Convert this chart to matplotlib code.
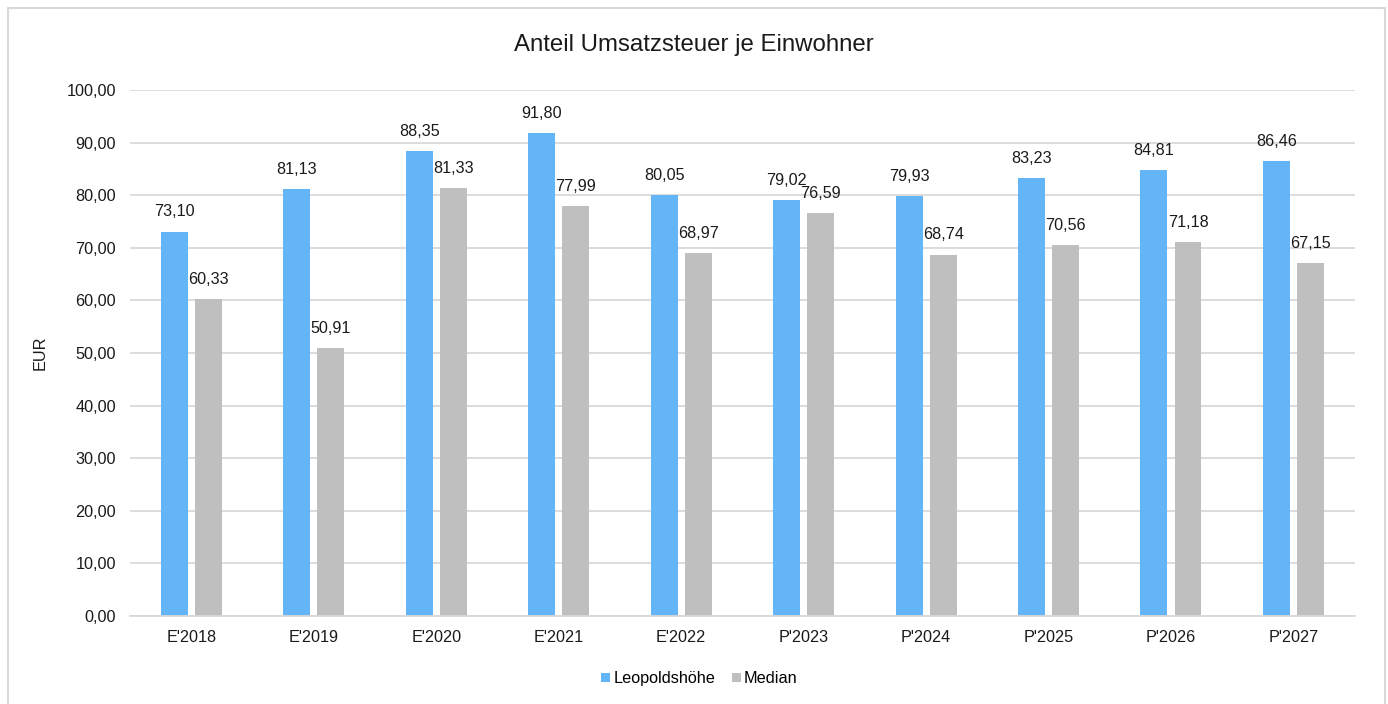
import matplotlib.pyplot as plt
import numpy as np
from matplotlib.patches import Rectangle

plt.rcParams['font.family'] = ['Liberation Sans', 'DejaVu Sans']

# === Data ===
categories = ["E'2018", "E'2019", "E'2020", "E'2021", "E'2022",
              "P'2023", "P'2024", "P'2025", "P'2026", "P'2027"]
leopoldshoehe = [73.10, 81.13, 88.35, 91.80, 80.05, 79.02, 79.93, 83.23, 84.81, 86.46]
median = [60.33, 50.91, 81.33, 77.99, 68.97, 76.59, 68.74, 70.56, 71.18, 67.15]

def fmt(v):
    return f'{v:.2f}'.replace('.', ',')

txt = '#1a1a1a'

# === Plot ===
fig = plt.figure(figsize=(13.88, 7.04), dpi=100)
ax = fig.add_axes([0.0937, 0.125, 0.8823, 0.747])

x = np.arange(len(categories))
w = 0.22
off = 0.139
b1 = ax.bar(x - off, leopoldshoehe, w, color='#63B5F7', label='Leopoldshöhe', zorder=2)
b2 = ax.bar(x + off, median, w, color='#BFBFBF', label='Median', zorder=2)

for bars, vals in ((b1, leopoldshoehe), (b2, median)):
    for rect, v in zip(bars, vals):
        ax.text(rect.get_x() + rect.get_width() / 2, v + 2.3, fmt(v),
                ha='center', va='bottom', fontsize=11.6, color=txt)

ax.set_xlim(-0.5, len(categories) - 0.5)
ax.set_ylim(0, 100)
ax.set_yticks(np.arange(0, 101, 10))
ax.set_yticklabels([fmt(t) for t in np.arange(0, 101, 10)])
ax.set_xticks(x)
ax.set_xticklabels(categories)
ax.tick_params(axis='both', length=0, labelsize=11.7, colors=txt)
ax.tick_params(axis='x', pad=10)
ax.tick_params(axis='y', pad=10)
ax.grid(axis='y', color='#D9D9D9', linewidth=1.3, zorder=0)
for s in ['top', 'right', 'left']:
    ax.spines[s].set_visible(False)
ax.spines['bottom'].set_color('#D9D9D9')
ax.spines['bottom'].set_linewidth(1.3)

ax.set_ylabel('EUR', fontsize=11.7, color=txt, labelpad=14)
fig.text(0.5, 0.936, 'Anteil Umsatzsteuer je Einwohner', ha='center', va='center',
         fontsize=17.3, color=txt)

fig.legend(loc='center', bbox_to_anchor=(0.504, 0.036), ncol=2, frameon=False,
           fontsize=11.7, handlelength=0.55, handleheight=0.55, handletextpad=0.2,
           columnspacing=1.0)

# outer chart border
fig.patches.append(Rectangle((8 / 1388, -0.01), 1377 / 1388, 1 - 8 / 704 + 0.01,
                             transform=fig.transFigure, fill=False,
                             edgecolor='#D9D9D9', linewidth=1.5))

plt.savefig('out.png', dpi=100)
